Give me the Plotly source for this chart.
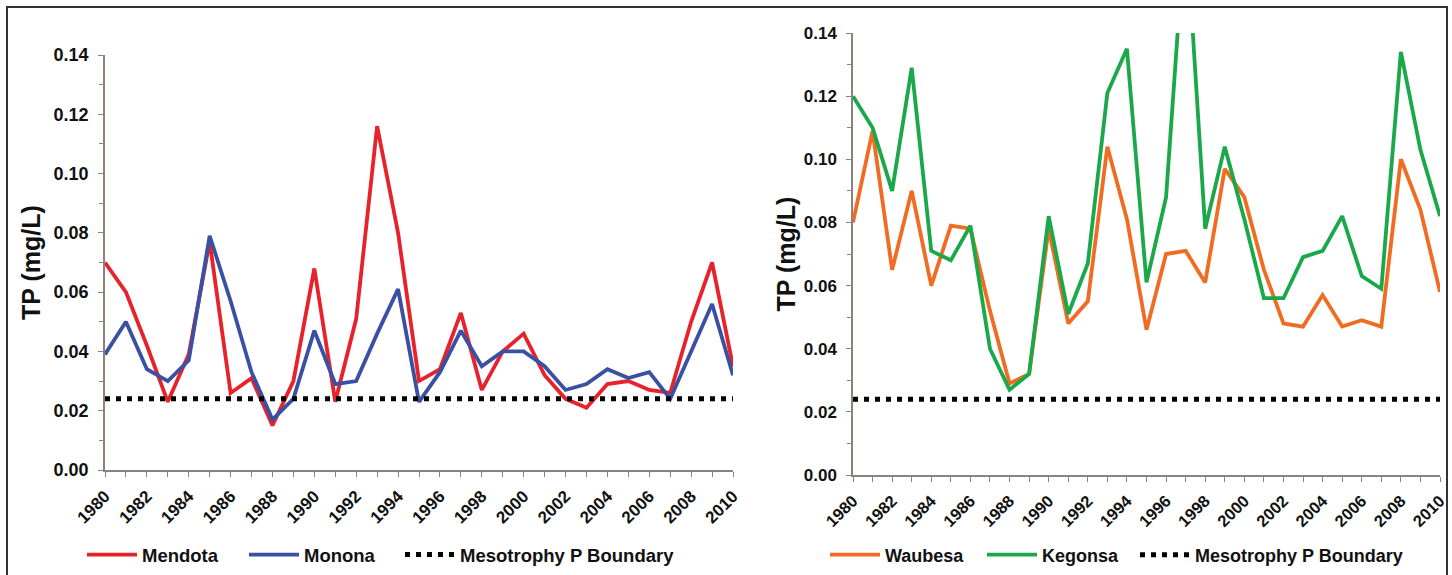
import plotly.graph_objects as go

years = list(range(1980, 2011))

mendota = [0.070, 0.060, 0.042, 0.023, 0.039, 0.077, 0.026, 0.031, 0.015, 0.030,
           0.068, 0.023, 0.051, 0.116, 0.080, 0.030, 0.034, 0.053, 0.027, 0.040,
           0.046, 0.032, 0.024, 0.021, 0.029, 0.030, 0.027, 0.026, 0.050, 0.070, 0.035]
monona = [0.039, 0.050, 0.034, 0.030, 0.037, 0.079, 0.057, 0.033, 0.017, 0.024,
          0.047, 0.029, 0.030, 0.046, 0.061, 0.023, 0.033, 0.047, 0.035, 0.040,
          0.040, 0.035, 0.027, 0.029, 0.034, 0.031, 0.033, 0.024, 0.040, 0.056, 0.032]
waubesa = [0.080, 0.109, 0.065, 0.090, 0.060, 0.079, 0.078, 0.052, 0.029, 0.032,
           0.078, 0.048, 0.055, 0.104, 0.081, 0.046, 0.070, 0.071, 0.061, 0.097,
           0.088, 0.065, 0.048, 0.047, 0.057, 0.047, 0.049, 0.047, 0.100, 0.084, 0.058]
kegonsa = [0.120, 0.110, 0.090, 0.129, 0.071, 0.068, 0.079, 0.040, 0.027, 0.032,
           0.082, 0.051, 0.067, 0.121, 0.135, 0.061, 0.088, 0.176, 0.078, 0.104,
           0.081, 0.056, 0.056, 0.069, 0.071, 0.082, 0.063, 0.059, 0.134, 0.103, 0.082]
boundary_value = 0.024
boundary_years = [1980, 2010]
boundary = [boundary_value, boundary_value]

font_family = "Liberation Sans, Arial, sans-serif"
axis_color = "#8c817d"
text_color = "#111111"

W, H = 1452, 575

fig = go.Figure()

def add_line(x, y, name, color, xa, ya, legend, dash=None, width=3.8):
    fig.add_trace(go.Scatter(
        x=x, y=y, name=name, mode="lines",
        line=dict(color=color, width=width, dash=dash),
        xaxis=xa, yaxis=ya, legend=legend, hoverinfo="x+y+name"))

add_line(years, mendota, "Mendota", "#e8222a", "x", "y", "legend")
add_line(years, monona, "Monona", "#3a51a3", "x", "y", "legend2")
add_line(boundary_years, boundary, "Mesotrophy P Boundary", "#000000", "x", "y", "legend3",
         dash="5px,6px", width=5)
add_line(years, waubesa, "Waubesa", "#f06c22", "x2", "y2", "legend4")
add_line(years, kegonsa, "Kegonsa", "#1ba84a", "x2", "y2", "legend5")
add_line(boundary_years, boundary, "Mesotrophy P Boundary", "#000000", "x2", "y2", "legend6",
         dash="5px,6px", width=5)

def xaxis(domain, anchor, size):
    return dict(domain=domain, anchor=anchor, range=[1980, 2010], dtick=2, tick0=1980,
                showgrid=False, zeroline=False, showline=True, linecolor=axis_color,
                linewidth=1.5, ticks="outside", ticklen=5, tickcolor=axis_color,
                tickangle=-45, ticklabelstandoff=3, automargin=False,
                tickfont=dict(family=font_family, size=size, color=text_color, weight="bold"),
                minor=dict(dtick=1, ticks="outside", ticklen=5, tickcolor=axis_color),
                fixedrange=True)

def yaxis(domain, anchor, size, standoff):
    return dict(domain=domain, anchor=anchor, range=[0, 0.14], dtick=0.02, tick0=0,
                tickformat=".2f", showgrid=False, zeroline=False, showline=True,
                linecolor=axis_color, linewidth=1.5, ticks="outside", ticklen=5,
                tickcolor=axis_color, ticklabelstandoff=6, automargin=False,
                tickfont=dict(family=font_family, size=size, color=text_color, weight="bold"),
                minor=dict(dtick=0.01, ticks="outside", ticklen=4, tickcolor=axis_color),
                title=dict(text="TP (mg/L)", standoff=standoff,
                           font=dict(family=font_family, size=25, color=text_color, weight="bold")),
                fixedrange=True)

def legend_at(x_px, size):
    return dict(orientation="h", xanchor="left", yanchor="middle",
                x=x_px / W, y=(H - 555) / H,
                font=dict(family=font_family, size=size, color=text_color, weight="bold"),
                itemwidth=50, bgcolor="rgba(0,0,0,0)", borderwidth=0)

fig.update_layout(
    template="none",
    width=W, height=H,
    margin=dict(l=0, r=0, t=0, b=0, pad=0, autoexpand=False),
    paper_bgcolor="white", plot_bgcolor="white",
    xaxis=xaxis([105 / W, 733 / W], "y", 17),
    yaxis=yaxis([(H - 470) / H, (H - 55) / H], "x", 18, 6),
    xaxis2=xaxis([853 / W, 1440 / W], "y2", 16.5),
    yaxis2=yaxis([(H - 475) / H, (H - 33) / H], "x2", 17, 1),
    legend=legend_at(82, 18.5),
    legend2=legend_at(244, 18.5),
    legend3=legend_at(400, 18.5),
    legend4=legend_at(825, 18),
    legend5=legend_at(982, 18),
    legend6=legend_at(1135, 18),
    shapes=[dict(type="rect", xref="paper", yref="paper",
                 x0=7 / W, x1=1447 / W, y0=-0.05, y1=(H - 7) / H,
                 line=dict(color="#333", width=2), fillcolor="rgba(0,0,0,0)")],
    showlegend=True,
)

fig.write_html(
    "out.html",
    post_script="document.body.style.margin='0';document.body.style.overflow='hidden';",
)
